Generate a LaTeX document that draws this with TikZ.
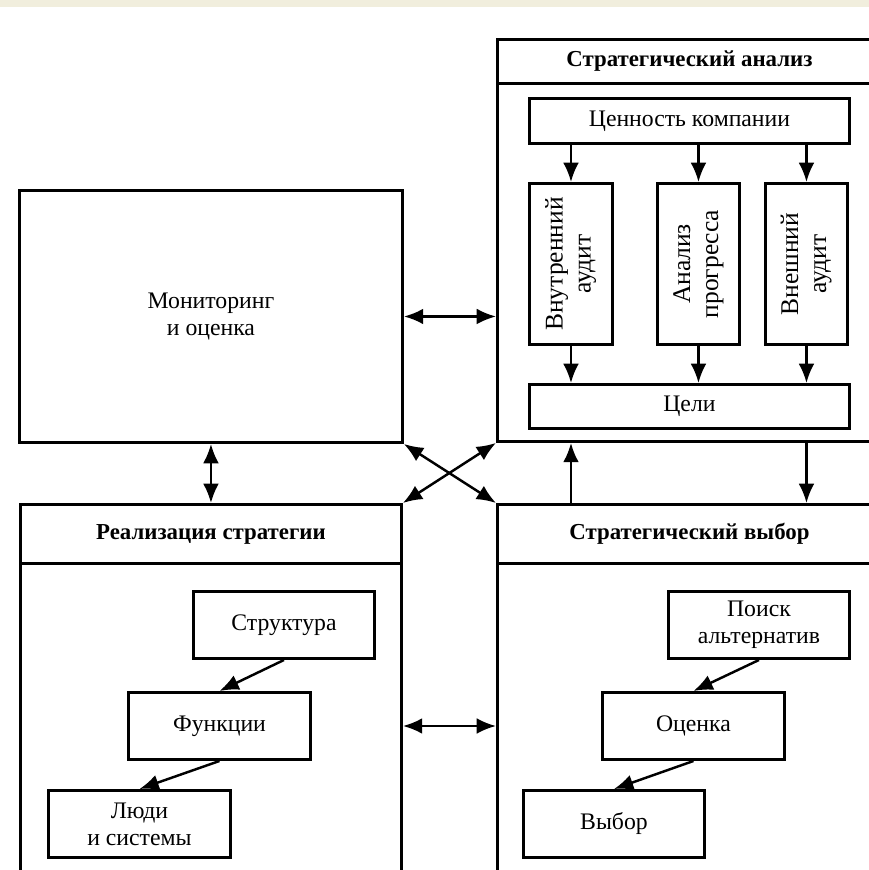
\documentclass[tikz,border=0pt]{standalone}
\usepackage{fontspec}
\setmainfont{Liberation Serif}
\usetikzlibrary{arrows.meta}
\definecolor{bandclr}{RGB}{241,238,221}

\begin{document}
\begin{tikzpicture}[x=0.02cm,y=-0.02cm,
    box/.style={draw,line width=1.7pt,inner sep=2pt,align=center,
      font=\fontsize{13.5}{15.5}\selectfont},
    hdr/.style={box,font=\fontsize{13}{15}\selectfont\bfseries},
    vbox/.style={box,font=\fontsize{14.5}{16}\selectfont},
    arj/.style={line width=1.4pt,-{Latex[length=11pt,width=9pt]}},
    arjj/.style={arj,{Latex[length=11pt,width=9pt]}-{Latex[length=11pt,width=9pt]}}]
  \useasboundingbox (0,0) rectangle (869,870);
  \clip (0,0) rectangle (869,870);
  \fill[bandclr] (0,0) rectangle (869,7);
  % big blocks
  \node[box,anchor=north west,minimum width=7.66cm,minimum height=5.04cm]
    (mon) at (18,189) {Мониторинг\\и оценка};
  \node[box,anchor=north west,minimum width=7.68cm,minimum height=8.04cm]
    (ana) at (496,38) {};
  \node[hdr,anchor=north,minimum width=7.68cm,minimum height=0.88cm]
    (anaT) at (ana.north) {Стратегический анализ};
  \node[box,anchor=north west,minimum width=7.62cm,minimum height=7.74cm]
    (real) at (19,503) {};
  \node[hdr,anchor=north,minimum width=7.62cm,minimum height=1.18cm]
    (realT) at (real.north) {Реализация стратегии};
  \node[box,anchor=north west,minimum width=7.68cm,minimum height=7.74cm]
    (vyb) at (496,503) {};
  \node[hdr,anchor=north,minimum width=7.68cm,minimum height=1.18cm]
    (vybT) at (vyb.north) {Стратегический выбор};
  % strategic analysis
  \node[box,anchor=north west,minimum width=6.4cm,minimum height=0.9cm]
    (cen) at (528,97) {Ценность компании};
  \node[vbox,anchor=north west,minimum width=1.66cm,minimum height=3.22cm]
    (vnutr) at (528,182) {\rotatebox{90}{\begin{tabular}{@{}c@{}}Внутренний\\аудит\end{tabular}}};
  \node[vbox,anchor=north west,minimum width=1.64cm,minimum height=3.22cm]
    (progr) at (656,182) {\rotatebox{90}{\begin{tabular}{@{}c@{}}Анализ\\прогресса\end{tabular}}};
  \node[vbox,anchor=north west,minimum width=1.64cm,minimum height=3.22cm]
    (vnesh) at (764,182) {\rotatebox{90}{\begin{tabular}{@{}c@{}}Внешний\\аудит\end{tabular}}};
  \node[box,anchor=north west,minimum width=6.4cm,minimum height=0.88cm]
    (celi) at (528,383) {Цели};
  \foreach \b in {vnutr,progr,vnesh}{
    \draw[arj] (\b.north |- cen.south) -- (\b.north);
    \draw[arj] (\b.south) -- (\b.south |- celi.north);
  }
  % realization
  \node[box,anchor=north west,minimum width=3.62cm,minimum height=1.34cm]
    (strukt) at (192,590) {Структура};
  \node[box,anchor=north west,minimum width=3.64cm,minimum height=1.34cm]
    (func) at (127,691) {Функции};
  \node[box,anchor=north west,minimum width=3.64cm,minimum height=1.34cm]
    (ludi) at (47,789) {Люди\\и системы};
  \draw[arj] (strukt.south) -- (func.north);
  \draw[arj] (func.south) -- (ludi.north);
  % choice
  \node[box,anchor=north west,minimum width=3.62cm,minimum height=1.34cm]
    (poisk) at (667,590) {Поиск\\альтернатив};
  \node[box,anchor=north west,minimum width=3.64cm,minimum height=1.34cm]
    (ocen) at (601,691) {Оценка};
  \node[box,anchor=north west,minimum width=3.62cm,minimum height=1.34cm]
    (vybor) at (522,789) {Выбор};
  \draw[arj] (poisk.south) -- (ocen.north);
  \draw[arj] (ocen.south) -- (vybor.north);
  % links between blocks
  \draw[arjj] (mon.east) -- (mon.east -| ana.west);
  \draw[arjj] (mon.south) -- (mon.south |- real.north);
  \draw[arjj] (mon.south east) -- (vyb.north west);
  \draw[arjj] (real.north east) -- (ana.south west);
  \draw[arj] (vyb.north -| vnutr) -- (ana.south -| vnutr);
  \draw[arj] (ana.south -| vnesh) -- (vyb.north -| vnesh);
  \draw[arjj] (real.east |- func) -- (vyb.west |- func);
\end{tikzpicture}
\end{document}
